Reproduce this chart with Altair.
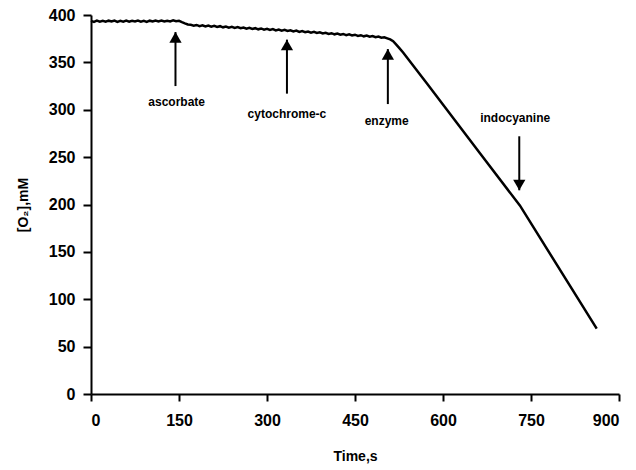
import altair as alt
import pandas as pd

# ---- oxygen trace ----
time_s = [0, 5, 10, 15, 20, 25, 30, 35, 40, 45, 50, 55, 60, 65, 70, 75, 80, 85, 90, 95,
          100, 105, 110, 115, 120, 125, 130, 135, 140, 145, 150, 155, 160, 165, 170, 175,
          180, 185, 190, 195, 200, 205, 210, 215, 220, 225, 230, 235, 240, 245, 250, 255,
          260, 265, 270, 275, 280, 285, 290, 295, 300, 305, 310, 315, 320, 325, 330, 335,
          340, 345, 350, 355, 360, 365, 370, 375, 380, 385, 390, 395, 400, 405, 410, 415,
          420, 425, 430, 435, 440, 445, 450, 455, 460, 465, 470, 475, 480, 485, 490, 495,
          500, 505, 510, 515, 520, 526, 532, 573, 663, 731, 862]
o2_mM = [393.8, 392.8, 394.1, 393.0, 393.9, 392.9, 394.0, 393.1, 394.1, 392.8,
         393.8, 393.0, 394.0, 392.9, 393.9, 393.2, 394.1, 393.0, 393.8, 392.8,
         394.0, 393.1, 394.1, 393.2, 394.2, 393.1, 394.0, 393.3, 394.3, 393.4,
         393.9, 392.5, 391.2, 390.0, 389.6, 388.8, 389.5, 388.3, 389.1, 387.9,
         388.8, 387.7, 388.5, 387.4, 388.2, 387.0, 387.9, 386.7, 387.5, 386.4,
         387.2, 386.0, 386.8, 385.6, 386.5, 385.3, 386.1, 384.9, 385.8, 384.6,
         385.4, 384.2, 385.1, 383.8, 384.7, 383.5, 384.3, 383.1, 383.9, 382.7,
         383.5, 382.2, 383.0, 381.8, 382.6, 381.4, 382.2, 381.0, 381.7, 380.5,
         381.3, 380.1, 380.8, 379.6, 380.4, 379.2, 380.0, 378.8, 379.6, 378.4,
         379.2, 378.0, 378.7, 377.5, 378.3, 377.1, 377.8, 376.6, 377.3, 376.1,
         376.4, 375.4, 374.2, 372.3, 369.0, 364.8, 360.5, 327.5, 254.0, 199.0, 69.0]

# ---- annotations ----
arrow_names = ["ascorbate", "cytochrome-c", "enzyme", "indocyanine"]
arrow_t = [144, 334, 506, 730]
arrow_tail = [325, 317, 306, 272]
arrow_tip = [382, 374, 364, 215]
arrow_dir = ["up", "up", "up", "down"]
label_t = [146, 334, 504, 723]
label_y = [308, 296, 288, 291]

x_ticks = [0, 150, 300, 450, 600, 750, 900]
y_ticks = [0, 25, 50, 75, 100, 125, 150, 175, 200, 225, 250, 275, 300, 325, 350, 375, 400]

trace = pd.DataFrame({"t": time_s, "o2": o2_mM})
arrows = pd.DataFrame({"name": arrow_names, "t": arrow_t, "tail": arrow_tail,
                       "tip": arrow_tip, "dir": arrow_dir,
                       "lt": label_t, "ly": label_y})

FONT = "Liberation Sans"

x_scale = alt.Scale(domain=[0, 900], nice=False, zero=False, padding=0)
y_scale = alt.Scale(domain=[0, 400], nice=False, padding=0)

line = alt.Chart(trace).mark_line(color="black", strokeWidth=2.5).encode(
    x=alt.X("t:Q", scale=x_scale, title="Time,s",
            axis=alt.Axis(values=x_ticks, tickSize=7, labelPadding=11,
                          titlePadding=21, titleFontSize=14)),
    y=alt.Y("o2:Q", scale=y_scale, title="[O₂],mM",
            axis=alt.Axis(values=y_ticks,
                          labelExpr="datum.value % 50 === 0 ? datum.label : ''",
                          tickSize={"condition": {"test": "datum.value % 50 !== 0", "value": 5},
                                    "value": 8},
                          labelPadding=8, titlePadding=18, titleFontSize=14)),
)

rules = alt.Chart(arrows).mark_rule(color="black", strokeWidth=2).encode(
    x=alt.X("t:Q", scale=x_scale), y=alt.Y("tail:Q", scale=y_scale), y2="tip:Q"
)

heads_up = alt.Chart(arrows).transform_filter("datum.dir === 'up'").mark_point(
    shape="triangle-up", size=150, filled=True, color="black", opacity=1, yOffset=5.3
).encode(x=alt.X("t:Q", scale=x_scale), y=alt.Y("tip:Q", scale=y_scale))

heads_down = alt.Chart(arrows).transform_filter("datum.dir === 'down'").mark_point(
    shape="triangle-down", size=150, filled=True, color="black", opacity=1, yOffset=-5.3
).encode(x=alt.X("t:Q", scale=x_scale), y=alt.Y("tip:Q", scale=y_scale))

labels = alt.Chart(arrows).mark_text(
    font=FONT, fontSize=12, fontWeight="bold", color="black",
    align="center", baseline="middle"
).encode(x=alt.X("lt:Q", scale=x_scale), y=alt.Y("ly:Q", scale=y_scale), text="name:N")

chart = (line + rules + heads_up + heads_down + labels).properties(
    width=528, height=379,
    autosize=alt.AutoSizeParams(type="none"),
    padding={"left": 83, "top": 7, "right": 2, "bottom": 70},
).configure_view(stroke=None).configure_scale(continuousPadding=0).configure_axis(
    grid=False,
    domainColor="black", domainWidth=2,
    tickColor="black", tickWidth=2,
    labelFont=FONT, labelFontSize=16, labelFontWeight="bold", labelColor="black",
    titleFont=FONT, titleFontWeight="bold", titleColor="black",
)

chart.save("out.html", embed_options={"renderer": "svg", "actions": False})
